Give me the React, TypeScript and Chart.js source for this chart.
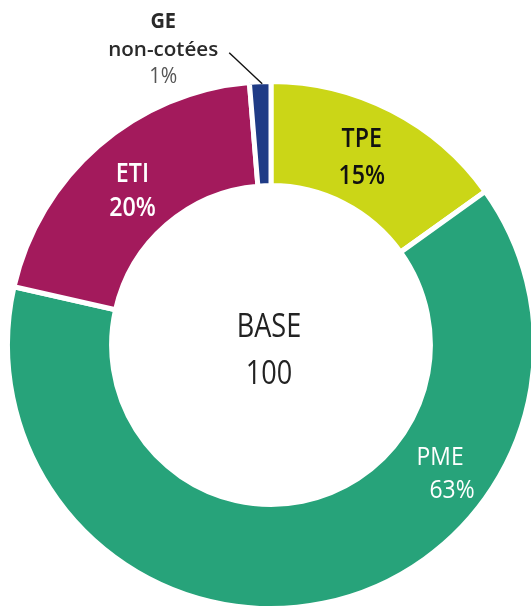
import React, { useEffect, useRef } from "react";
import { Chart, registerables } from "chart.js";

Chart.register(...registerables);

const categories = ["TPE", "PME", "ETI", "GE non-cotées"];
const values = [15, 63, 20, 1.3];
const percentLabels = ["15%", "63%", "20%", "1%"];
const colors = ["#cbd617", "#27a37a", "#a31a5c", "#1f3b86"];
const centerLines = ["BASE", "100"];

const FONT = "'Open Sans', 'Noto Sans', sans-serif";

const labelPlugin = {
  id: "sliceLabels",
  afterDraw(chart: any) {
    const ctx = chart.ctx as CanvasRenderingContext2D;
    const arcs = chart.getDatasetMeta(0).data as any[];
    const cx = arcs[0].x;
    const cy = arcs[0].y;

    const anchor = (i: number, frac: number, t: number) => {
      const a = arcs[i];
      const ang = a.startAngle + (a.endAngle - a.startAngle) * frac;
      const r = a.innerRadius + (a.outerRadius - a.innerRadius) * t;
      return { x: a.x + Math.cos(ang) * r, y: a.y + Math.sin(ang) * r };
    };

    const text = (
      s: string,
      x: number,
      y: number,
      font: string,
      color: string,
      sx: number
    ) => {
      ctx.save();
      ctx.font = font;
      ctx.fillStyle = color;
      ctx.textAlign = "center";
      ctx.textBaseline = "alphabetic";
      ctx.translate(x, y);
      ctx.scale(sx, 1);
      ctx.fillText(s, 0, 0);
      ctx.restore();
    };

    const big = `600 27px ${FONT}`;
    // TPE
    let p = anchor(0, 0.47, 0.49);
    text(categories[0], p.x, p.y - 8.5, big, "#111111", 0.86);
    text(percentLabels[0], p.x, p.y + 28.5, big, "#111111", 0.86);
    // PME
    p = anchor(1, 0.314, 0.55);
    text(categories[1], p.x - 6, p.y - 7.5, `500 26px ${FONT}`, "#ffffff", 0.88);
    text(percentLabels[1], p.x + 6, p.y + 25.5, `500 26px ${FONT}`, "#ffffff", 0.88);
    // ETI
    p = anchor(2, 0.49, 0.47);
    text(categories[2], p.x, p.y - 7.5, big, "#ffffff", 0.86);
    text(percentLabels[2], p.x, p.y + 26.5, big, "#ffffff", 0.86);

    // GE (outside, with leader line)
    const g = arcs[3];
    const gAng = (g.startAngle + g.endAngle) / 2;
    const ox = g.x + Math.cos(gAng) * (g.outerRadius - 1);
    const oy = g.y + Math.sin(gAng) * (g.outerRadius - 1);
    ctx.save();
    ctx.strokeStyle = "#111";
    ctx.lineWidth = 1.4;
    ctx.beginPath();
    ctx.moveTo(ox + 2, oy + 1);
    ctx.lineTo(ox - 31, oy - 30);
    ctx.stroke();
    ctx.restore();
    const [geA, geB] = categories[3].split(" ");
    text(geA, ox - 97, oy - 55, `700 21px ${FONT}`, "#2a2a2a", 0.95);
    text(geB, ox - 97, oy - 27, `600 20px ${FONT}`, "#2a2a2a", 1.03);
    text(percentLabels[3], ox - 97, oy, `400 21px ${FONT}`, "#555555", 0.95);

    // Center
    text(centerLines[0], cx - 2, cy - 8, `400 33px ${FONT}`, "#222222", 0.82);
    text(centerLines[1], cx - 2, cy + 39, `400 33px ${FONT}`, "#222222", 0.82);
  },
};

export default function App() {
  const ref = useRef<HTMLCanvasElement | null>(null);
  useEffect(() => {
    if (!ref.current) return;
    const chart = new Chart(ref.current, {
      type: "doughnut",
      data: {
        labels: categories,
        datasets: [
          {
            data: values,
            backgroundColor: colors,
            borderColor: "#ffffff",
            borderWidth: 5,
          },
        ],
      },
      options: {
        responsive: false,
        animation: false,
        cutout: "60.5%",
        rotation: 0,
        layout: { padding: { left: 5, top: 79, right: 5, bottom: 0 } },
        plugins: {
          legend: { display: false },
          tooltip: { enabled: false },
        },
      },
      plugins: [labelPlugin],
    });
    return () => chart.destroy();
  }, []);
  return (
    <div
      style={{
        position: "fixed",
        left: 0,
        top: 0,
        width: 531,
        height: 606,
        overflow: "hidden",
        background: "#fff",
      }}
    >
      <canvas ref={ref} width={542} height={611} style={{ width: 542, height: 611 }} />
    </div>
  );
}
